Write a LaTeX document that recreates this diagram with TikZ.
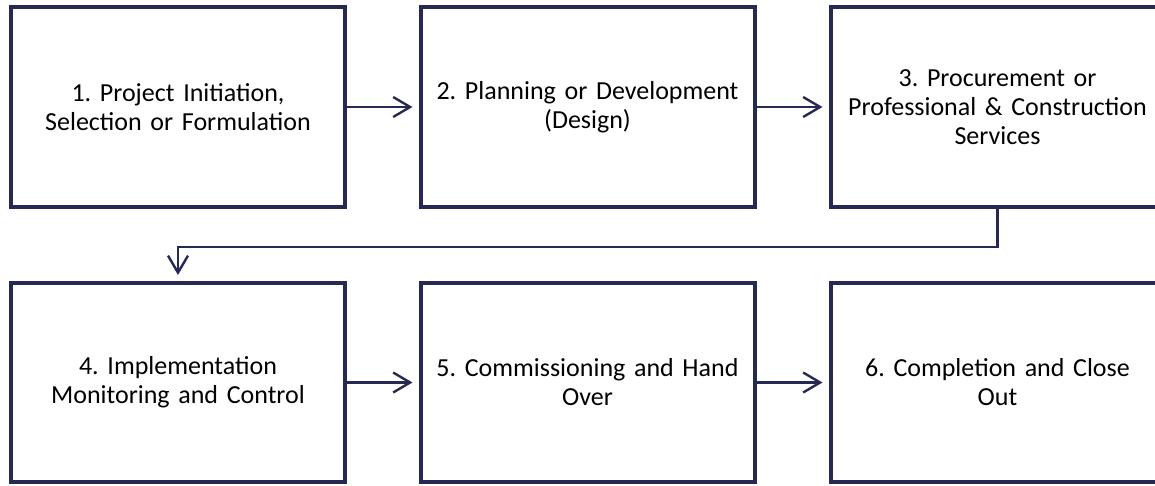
\documentclass[tikz,border=0pt]{standalone}
\usepackage{fontspec}
\setmainfont{Carlito}
\usetikzlibrary{arrows.meta}
\definecolor{navy}{RGB}{38,42,82}
\begin{document}
\frenchspacing
\begin{tikzpicture}[x=1pt,y=-1pt,
  stage/.style={draw=navy, line width=4pt, rectangle, minimum width=334pt,
    minimum height=200pt, inner sep=0pt, align=center, text width=326pt,
    font=\fontsize{26}{29}\selectfont, text=black},
  flow/.style={draw=navy, line width=2.4pt, shorten >=6pt,
    -{Straight Barb[length=17pt,width=20pt]}}]
  \useasboundingbox (0,0) rectangle (1155,485);
  \clip (0,0) rectangle (1155,485);
  % upper row
  \node[stage] (s1) at (178,107) {1. Project Initiation,\\Selection or Formulation};
  \node[stage] (s2) at (587.5,107) {2. Planning or Development\\(Design)};
  \node[stage] (s3) at (997.5,107) {3. Procurement or\\Professional \& Construction\\Services};
  % lower row
  \node[stage, minimum height=199pt] (s4) at (178,382.5) {4. Implementation\\Monitoring and Control};
  \node[stage, minimum height=199pt] (s5) at (587.5,382.5) {5. Commissioning and Hand\\Over};
  \node[stage, minimum height=199pt] (s6) at (997.5,382.5) {6. Completion and Close\\Out};
  % connectors
  \draw[flow] (s1.east) -- (s2.west);
  \draw[flow] (s2.east) -- (s3.west);
  \draw[flow] (s3.south) -- ++(0,38) -| (s4.north);
  \draw[flow] (s4.east) -- (s5.west);
  \draw[flow] (s5.east) -- (s6.west);
\end{tikzpicture}
\end{document}
